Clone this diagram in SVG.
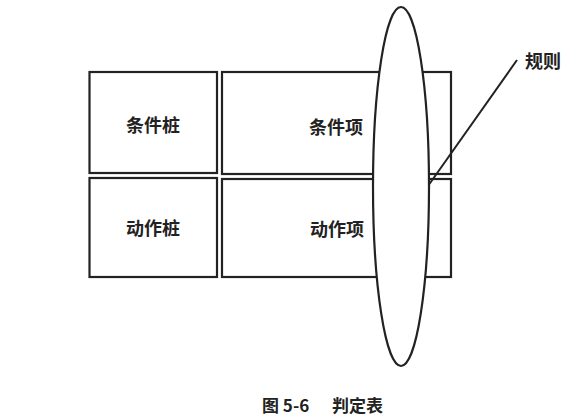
<svg xmlns="http://www.w3.org/2000/svg" width="579" height="420" viewBox="0 0 579 420">
<style>
.box{fill:#fff;stroke:#222;stroke-width:2.2}
.t{font-family:"Noto Sans CJK SC","Liberation Sans",sans-serif;font-weight:bold;font-size:18px;fill:#222;text-anchor:middle;dominant-baseline:central}
.c{font-family:"Noto Sans CJK SC","Liberation Sans",sans-serif;font-weight:bold;font-size:17px;fill:#222;dominant-baseline:central}
</style>
<rect width="579" height="420" fill="#fff"/>
<g id="stub-cond"><rect class="box" x="89.5" y="72" width="127.5" height="101"/><text class="t" x="153" y="124">条件桩</text></g>
<g id="stub-act"><rect class="box" x="89.5" y="178" width="127.5" height="99"/><text class="t" x="153" y="227">动作桩</text></g>
<g id="entry-cond"><rect class="box" x="222" y="72" width="229" height="102"/><text class="t" x="336" y="126">条件项</text></g>
<g id="entry-act"><rect class="box" x="222" y="179" width="229" height="98"/><text class="t" x="337" y="228">动作项</text></g>
<g id="connectors"><line x1="517" y1="60" x2="428" y2="186" stroke="#222" stroke-width="2"/></g>
<g id="rule"><ellipse cx="401" cy="186.5" rx="28" ry="179.5" fill="#fff" stroke="#222" stroke-width="2.2"/></g>
<g id="rule-label"><text class="t" x="543" y="60">规则</text></g>
<g id="caption"><text class="c" x="262" y="404">图 5-6</text><text class="c" x="332" y="404">判定表</text></g>
</svg>
